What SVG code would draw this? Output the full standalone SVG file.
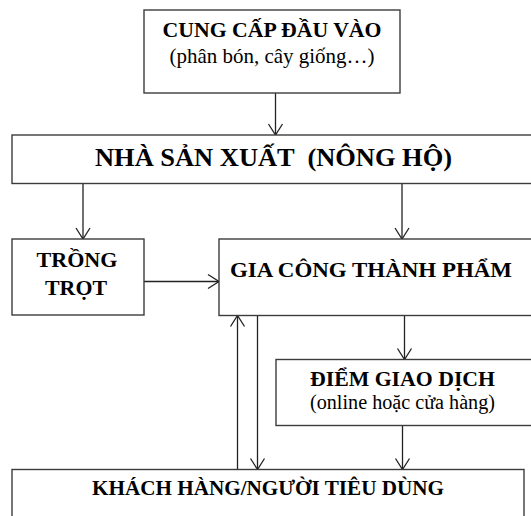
<svg xmlns="http://www.w3.org/2000/svg" width="531" height="516" viewBox="0 0 531 516">
<style>
.box{fill:#fff;stroke:#3c3c3c;stroke-width:1.4}
.t{font-family:"Liberation Serif","Times New Roman",serif;fill:#000;text-anchor:middle}
.b{font-weight:bold}
.c{stroke:#222;stroke-width:1.3;fill:none}
</style>
<defs>
<marker id="ah" markerUnits="userSpaceOnUse" markerWidth="16" markerHeight="18" viewBox="-13 -9 16 18" refX="0" refY="0" orient="auto">
<path d="M-11,-7 L0,0 L-11,7" fill="none" stroke="#222" stroke-width="1.3"/>
</marker>
</defs>
<rect width="531" height="516" fill="#fff"/>
<g id="connectors">
<line class="c" x1="275.5" y1="93" x2="275.5" y2="135" marker-end="url(#ah)"/>
<line class="c" x1="83" y1="183.5" x2="83" y2="239" marker-end="url(#ah)"/>
<line class="c" x1="402" y1="183.5" x2="402" y2="239" marker-end="url(#ah)"/>
<line class="c" x1="144" y1="281.5" x2="219" y2="281.5" marker-end="url(#ah)"/>
<line class="c" x1="237.5" y1="469.5" x2="237.5" y2="315.5" marker-end="url(#ah)"/>
<line class="c" x1="257.5" y1="315.5" x2="257.5" y2="469.5" marker-end="url(#ah)"/>
<line class="c" x1="404.5" y1="315.5" x2="404.5" y2="359.5" marker-end="url(#ah)"/>
<line class="c" x1="402.5" y1="425.5" x2="402.5" y2="469.5" marker-end="url(#ah)"/>
</g>
<g id="input">
<rect class="box" x="144" y="10" width="256" height="83"/>
<text class="t b" x="272" y="37" font-size="21" textLength="219" lengthAdjust="spacingAndGlyphs">CUNG CẤP ĐẦU VÀO</text>
<text class="t" x="272" y="63" font-size="21" textLength="205" lengthAdjust="spacingAndGlyphs">(phân bón, cây giống…)</text>
</g>
<g id="producer">
<rect class="box" x="12" y="135" width="530" height="48.5"/>
<text class="t b" x="273.5" y="166" font-size="26" textLength="357" lengthAdjust="spacingAndGlyphs" xml:space="preserve">NHÀ SẢN XUẤT  (NÔNG HỘ)</text>
</g>
<g id="farming">
<rect class="box" x="12" y="239" width="132" height="76"/>
<text class="t b" x="77" y="267" font-size="22" textLength="81" lengthAdjust="spacingAndGlyphs">TRỒNG</text>
<text class="t b" x="76" y="295" font-size="22" textLength="62" lengthAdjust="spacingAndGlyphs">TRỌT</text>
</g>
<g id="processing">
<rect class="box" x="219" y="239" width="320" height="76.5"/>
<text class="t b" x="371" y="277" font-size="22" textLength="282" lengthAdjust="spacingAndGlyphs">GIA CÔNG THÀNH PHẨM</text>
</g>
<g id="point">
<rect class="box" x="276" y="359.5" width="265" height="66"/>
<text class="t b" x="402.5" y="386" font-size="20" textLength="185" lengthAdjust="spacingAndGlyphs">ĐIỂM GIAO DỊCH</text>
<text class="t" x="402.5" y="409" font-size="20" textLength="185" lengthAdjust="spacingAndGlyphs">(online hoặc cửa hàng)</text>
</g>
<g id="customer">
<rect class="box" x="12" y="469.5" width="512" height="60"/>
<text class="t b" x="268" y="494.5" font-size="21" textLength="352" lengthAdjust="spacingAndGlyphs">KHÁCH HÀNG/NGƯỜI TIÊU DÙNG</text>
</g>
</svg>
